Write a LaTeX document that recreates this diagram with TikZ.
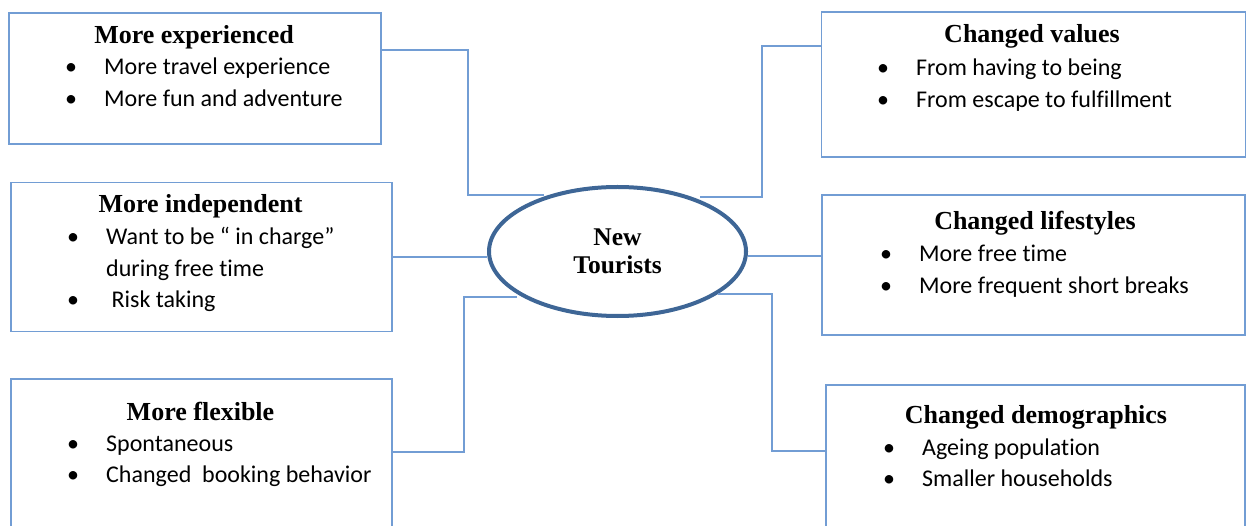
\documentclass[tikz,border=0pt]{standalone}
\usepackage{fontspec}
\setmainfont{Liberation Serif}
\newfontfamily\listfont[RawFeature={-liga;-clig;-calt;-dlig}]{Carlito}
\usetikzlibrary{shapes.geometric}
\definecolor{boxblue}{RGB}{114,157,212}
\definecolor{ovalblue}{RGB}{62,102,150}

\begin{document}
\begin{tikzpicture}[x=1pt,y=-1pt,
	box/.style={draw=boxblue,line width=1.6pt,inner sep=0pt},
	oval/.style={ellipse,draw=ovalblue,line width=4pt,inner sep=0pt,align=center,
		font=\bfseries\fontsize{25.5}{28}\selectfont},
	heading/.style={anchor=base,inner sep=0pt,font=\bfseries\fontsize{26}{30}\selectfont},
	points/.style={anchor=base west,inner sep=0pt,font=\listfont\fontsize{24}{31.5}\selectfont},
	link/.style={draw=boxblue,line width=1.6pt}]
	\useasboundingbox (0,0) rectangle (1249,526);
	\clip (0,0) rectangle (1249,526);
	% Centre
	\node[oval,minimum width=257pt,minimum height=129pt] (tour) at (617.5,251.5) {New\\Tourists};
	% Left boxes
	\node[box,minimum width=372pt,minimum height=131pt] (exp) at (195,78.5) {};
	\node[heading] (expT) at (194,44) {More experienced};
	\node[points] (expL) at (65,75) {\begin{tabular}[t]{@{}p{39pt}@{}l@{}}
		\textbullet & More travel experience\\
		\textbullet & More fun and adventure
	\end{tabular}};
	\node[box,minimum width=381pt,minimum height=149pt] (ind) at (201.5,257) {};
	\node[heading] (indT) at (200.5,213) {More independent};
	\node[points] (indL) at (67,245) {\begin{tabular}[t]{@{}p{39pt}@{}l@{}}
		\textbullet & Want to be “ in charge”\\
		& during free time\\
		\textbullet & \ Risk taking
	\end{tabular}};
	\node[box,minimum width=381pt,minimum height=180pt] (flex) at (201.5,469) {};
	\node[heading] (flexT) at (200.5,420) {More flexible};
	\node[points] (flexL) at (67,451) {\begin{tabular}[t]{@{}p{39pt}@{}l@{}}
		\textbullet & Spontaneous\\
		\textbullet & Changed \ booking behavior
	\end{tabular}};
	% Right boxes
	\node[box,minimum width=424pt,minimum height=145pt] (val) at (1033.5,84.5) {};
	\node[heading] (valT) at (1032,43) {Changed values};
	\node[points] (valL) at (877,76) {\begin{tabular}[t]{@{}p{39pt}@{}l@{}}
		\textbullet & From having to being\\
		\textbullet & From escape to fulfillment
	\end{tabular}};
	\node[box,minimum width=423pt,minimum height=140pt] (life) at (1033.5,265) {};
	\node[heading] (lifeT) at (1035,230) {Changed lifestyles};
	\node[points] (lifeL) at (880,262) {\begin{tabular}[t]{@{}p{39pt}@{}l@{}}
		\textbullet & More free time\\
		\textbullet & More frequent short breaks
	\end{tabular}};
	\node[box,minimum width=419pt,minimum height=180pt] (demo) at (1035.5,475) {};
	\node[heading] (demoT) at (1036,423) {Changed demographics};
	\node[points] (demoL) at (883,455) {\begin{tabular}[t]{@{}p{39pt}@{}l@{}}
		\textbullet & Ageing population\\
		\textbullet & Smaller households
	\end{tabular}};
	% Links
	\draw[link] (exp.east |- 0,50) -| (468,195) -- (tour.143 |- 0,195);
	\draw[link] (tour.32 |- 0,197) -| (762,46) -- (val.west |- 0,46);
	\draw[link] (ind.east |- 0,257) -- (tour.west |- 0,257);
	\draw[link] (tour.east |- 0,256) -- (life.west |- 0,256);
	\draw[link] (tour.203 |- 0,297) -| (464,452) -- (flex.east |- 0,452);
	\draw[link] (tour.337 |- 0,294) -| (772,451) -- (demo.west |- 0,451);
\end{tikzpicture}
\end{document}
